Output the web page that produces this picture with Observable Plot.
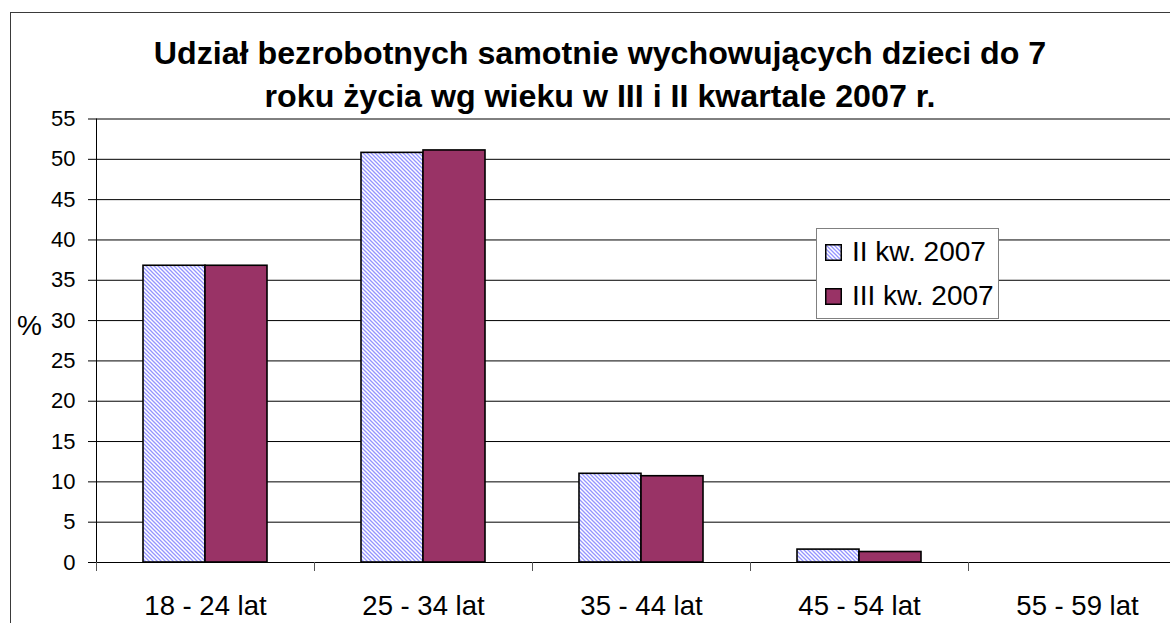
<!DOCTYPE html>
<html>
<head>
<meta charset="utf-8">
<script src="https://cdn.jsdelivr.net/npm/d3@7"></script>
<script src="https://cdn.jsdelivr.net/npm/@observablehq/plot@0.6"></script>
<style>
  html, body { margin: 0; padding: 0; background: #fff; overflow: hidden; }
  body { width: 1170px; height: 623px; position: relative; font-family: "Liberation Sans", Arial, sans-serif; }
  #frame { position: absolute; left: 10px; top: 12px; width: 1160px; height: 611px; border-left: 1.5px solid #3a3a3a; border-top: 1.5px solid #3a3a3a; box-sizing: border-box; }
  #title { position: absolute; left: 10px; width: 1180px; top: 32px; text-align: center; font-weight: bold; font-size: 32.2px; line-height: 43px; color: #000; white-space: nowrap; }
  #chart { position: absolute; left: 0; top: 0; width: 1170px; height: 623px; }
  #chart svg { max-width: none; display: block; }
  #ylabel { position: absolute; left: 17px; top: 310px; font-size: 28px; color: #000; }
  #legend { position: absolute; left: 816px; top: 228px; width: 183px; height: 91px; box-sizing: border-box; border: 1px solid #808080; background: #fff; }
  .row { position: absolute; left: 8px; display: flex; align-items: center; font-size: 28px; height: 32px; white-space: nowrap; }
  .row svg { margin-right: 10px; }
</style>
</head>
<body>
<svg width="0" height="0" style="position:absolute">
  <defs>
    <pattern id="hatch" patternUnits="userSpaceOnUse" width="4" height="4">
      <rect width="4" height="4" fill="#fff"></rect>
      <path d="M-1,-1 L5,5 M-1,3 L1,5 M3,-1 L5,1" stroke="#9494ff" stroke-width="1.3"></path>
    </pattern>
  </defs>
</svg>
<div id="frame"></div>
<div id="title">Udział bezrobotnych samotnie wychowujących dzieci do 7<br>roku życia wg wieku w III i II kwartale 2007 r.</div>
<div id="chart"></div>
<div id="ylabel">%</div>
<div id="legend"></div>
<script>
const categories = ["18 - 24 lat", "25 - 34 lat", "35 - 44 lat", "45 - 54 lat", "55 - 59 lat"];
const series = ["II kw. 2007", "III kw. 2007"];
const q2Values = [36.8, 50.8, 11.0, 1.6, 0];
const q3Values = [36.8, 51.1, 10.7, 1.3, 0];
const yTicks = [0, 5, 10, 15, 20, 25, 30, 35, 40, 45, 50, 55];
const fills = ["url(#hatch)", "#993366"];

const rows = [];
categories.forEach((c, i) => {
  rows.push({cat: c, series: series[0], value: q2Values[i]});
  rows.push({cat: c, series: series[1], value: q3Values[i]});
});

// The original chart area runs past the right edge of the picture (cropped).
const W = 1170, H = 623, mL = 96, mR = -16, mT = 118.5, mB = 61;
const band = (W - mL - mR) / categories.length;

const plot = Plot.plot({
  width: W, height: H,
  marginLeft: mL, marginRight: mR, marginTop: mT, marginBottom: mB,
  style: {fontFamily: "Liberation Sans, Arial, sans-serif", fontSize: "22px", color: "#000", background: "transparent", overflow: "hidden"},
  fx: {domain: categories, padding: 0, label: null, axis: null},
  x: {domain: series, paddingInner: 0, paddingOuter: 0.758, align: 0.5, axis: null},
  y: {domain: [0, 55], axis: null},
  color: {domain: series, range: fills},
  marks: [
    Plot.gridY(yTicks, {stroke: "#000", strokeOpacity: 1, strokeWidth: 1}),
    Plot.frame({anchor: "left", facetAnchor: "left", stroke: "#000"}),
    Plot.barY(rows, {fx: "cat", x: "series", y: "value", fill: "series", stroke: "#000", strokeWidth: 1.6, strokeOpacity: d => d.value > 0 ? 1 : 0}),
    Plot.axisY({ticks: yTicks, tickSize: 8, tickPadding: 13, fontSize: 22, label: null, stroke: "#000"}),
    Plot.axisFx({anchor: "bottom", tickSize: 0, tickPadding: 33, fontSize: 27.5, label: null}),
    Plot.axisFx({anchor: "bottom", tickSize: 9, tickFormat: () => "", dx: -band / 2, label: null, stroke: "#555"})
  ]
});
document.getElementById("chart").appendChild(plot);

const legend = document.getElementById("legend");
series.forEach((s, i) => {
  const row = document.createElement("div");
  row.className = "row";
  row.style.top = (i === 0 ? 7 : 51) + "px";
  row.innerHTML = `<svg width="17" height="17"><rect x="0.75" y="0.75" width="15.5" height="15.5" fill="${fills[i]}" stroke="#000" stroke-width="1.5"></rect></svg><span>${s}</span>`;
  legend.appendChild(row);
});
</script>
</body>
</html>
